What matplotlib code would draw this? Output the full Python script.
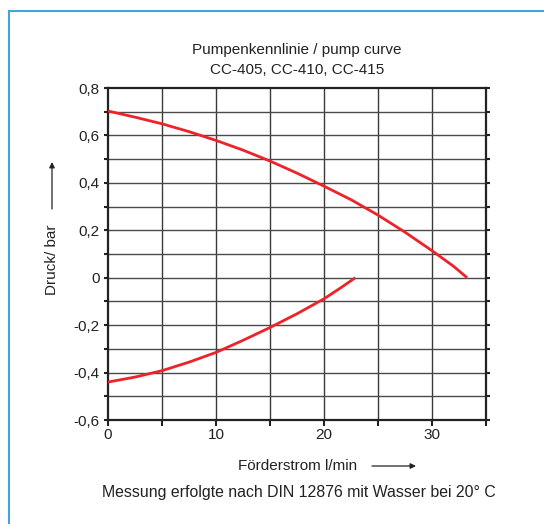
import numpy as np
import matplotlib.pyplot as plt
from matplotlib.lines import Line2D

plt.rcParams['font.family'] = ['Liberation Sans', 'DejaVu Sans']

flow_press = [0, 2.5, 5, 7.5, 10, 12.5, 15, 17.5, 20, 22.5, 25, 27.5, 30, 32, 33.25]
press = [0.703, 0.677, 0.649, 0.616, 0.579, 0.538, 0.492, 0.441, 0.386, 0.329,
         0.264, 0.192, 0.114, 0.048, 0.0]

flow_suct = [0, 2.5, 5, 7.5, 10, 12.5, 15, 17.5, 20, 21.5, 22.9]
suct = [-0.44, -0.419, -0.392, -0.356, -0.315, -0.264, -0.21, -0.152, -0.089,
        -0.044, 0.0]

xticks = [0, 10, 20, 30]
xtick_labels = ['0', '10', '20', '30']
yticks = [-0.6, -0.4, -0.2, 0, 0.2, 0.4, 0.6, 0.8]
ytick_labels = ['-0,6', '-0,4', '-0,2', '0', '0,2', '0,4', '0,6', '0,8']

title_1 = 'Pumpenkennlinie / pump curve'
title_2 = 'CC-405, CC-410, CC-415'
xlabel = 'Förderstrom l/min'
ylabel = 'Druck/ bar'
note = 'Messung erfolgte nach DIN 12876 mit Wasser bei 20° C'

W, H = 544, 524
ink = '#222222'
fig = plt.figure(figsize=(W / 100, H / 100), dpi=100)
ax = fig.add_axes([108 / W, 1 - 420 / H, 378 / W, 332 / H])

ax.set_xlim(0, 35)
ax.set_ylim(-0.6, 0.8)

# grid every 5 l/min and every 0.1 bar
for gx in np.arange(5, 35, 5):
    ax.axvline(gx, color='#3a3a3a', lw=1.0, zorder=1)
for gy in np.arange(-0.5, 0.8, 0.1):
    ax.axhline(gy, color='#4a4a4a', lw=1.0, zorder=1)

ax.plot(flow_press, press, color='#ee2229', lw=2.0, zorder=3, solid_capstyle='butt')
ax.plot(flow_suct, suct, color='#ee2229', lw=2.0, zorder=3, solid_capstyle='butt')

ax.set_xticks(np.arange(0, 36, 5), minor=True)
ax.set_yticks(np.arange(-0.6, 0.81, 0.1), minor=True)
ax.set_xticks(xticks)
ax.set_xticklabels(xtick_labels)
ax.set_yticks(yticks)
ax.set_yticklabels(ytick_labels)
ax.tick_params(which='both', direction='out', length=4, width=1.5,
               color=ink, labelcolor=ink, labelsize=11, right=True)
ax.tick_params(which='both', axis='y', right=True, length=3)
ax.tick_params(axis='x', pad=2)
ax.tick_params(axis='y', pad=3)
for s in ax.spines.values():
    s.set_linewidth(1.6)
    s.set_color(ink)

fig.text(297 / W, 1 - 50 / H, title_1, ha='center', va='center', fontsize=11, color=ink)
fig.text(297 / W, 1 - 70 / H, title_2, ha='center', va='center', fontsize=11, color=ink)

# axis captions with arrows
fig.text(52 / W, 1 - 260 / H, ylabel, rotation=90, ha='center', va='center',
         fontsize=11, color=ink)
ax.annotate('', xy=(52 / W, 1 - 162 / H), xytext=(52 / W, 1 - 209 / H),
            xycoords='figure fraction', textcoords='figure fraction',
            arrowprops=dict(arrowstyle='-|>', lw=0.9, color=ink,
                            mutation_scale=8, shrinkA=0, shrinkB=0))

fig.text(238 / W, 1 - 466 / H, xlabel, ha='left', va='center',
         fontsize=11, color=ink)
ax.annotate('', xy=(416 / W, 1 - 466 / H), xytext=(372 / W, 1 - 466 / H),
            xycoords='figure fraction', textcoords='figure fraction',
            arrowprops=dict(arrowstyle='-|>', lw=0.9, color=ink,
                            mutation_scale=8, shrinkA=0, shrinkB=0))

fig.text(299 / W, 1 - 493 / H, note, ha='center', va='center',
         fontsize=11.4, color=ink)

# blue frame on top and left
fig.add_artist(Line2D([9 / W, 1], [1 - 11 / H, 1 - 11 / H], color='#45a3dc', lw=1.5))
fig.add_artist(Line2D([9 / W, 9 / W], [0, 1 - 11 / H], color='#45a3dc', lw=1.5))

fig.savefig('out.png', dpi=100)
